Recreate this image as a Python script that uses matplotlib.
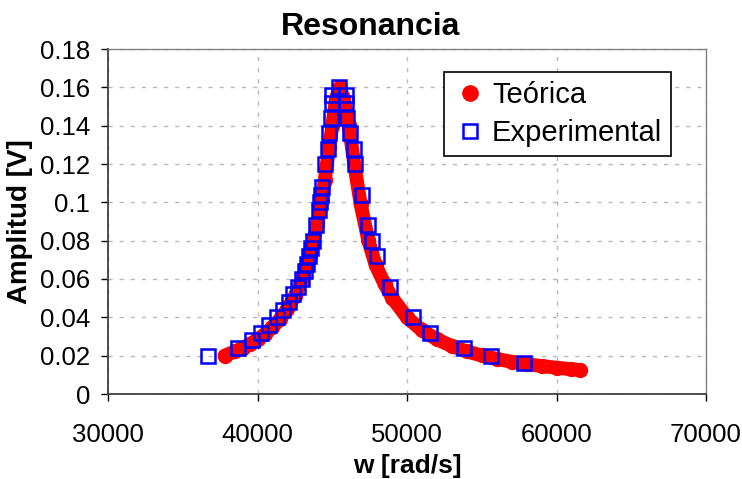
import matplotlib
matplotlib.use("Agg")
import matplotlib.pyplot as plt
from matplotlib.lines import Line2D

plt.rcParams['font.family'] = ['Liberation Sans', 'DejaVu Sans']

# theoretical curve
w_teo = [37800, 38500, 39000, 39500, 40000, 40500, 41000, 41500, 42000, 42500,
         43000, 43500, 44000, 44300, 44500, 44800, 45000, 45250, 45500, 45750,
         46100, 46500, 46900, 47400, 47900, 48500, 49000, 50000, 51000, 52000,
         53000, 54000, 55000, 56000, 57000, 58000, 59000, 60000, 61000, 61600]
a_teo = [0.0200, 0.0222, 0.0240, 0.0261, 0.0285, 0.0313, 0.0349, 0.0390, 0.0445, 0.0512,
         0.0601, 0.0721, 0.0887, 0.1010, 0.1117, 0.1290, 0.1398, 0.1540, 0.1600, 0.1545,
         0.1405, 0.1185, 0.0990, 0.0806, 0.0673, 0.0573, 0.0502, 0.0400, 0.0332, 0.0285,
         0.0250, 0.0222, 0.0201, 0.0183, 0.0168, 0.0156, 0.0146, 0.0137, 0.0129, 0.0125]

# experimental points
w_exp = [36700, 38720, 39600, 40250, 40800, 41300, 41700, 42100, 42400, 42700,
         42950, 43150, 43300, 43450, 43600, 43700, 43900, 44100, 44150, 44250,
         44320, 44540, 44700, 44800, 44900, 44980, 44950, 45440,
         45920, 45950, 46010, 46220, 46450, 46550, 46960, 47380, 47670, 48000,
         48850, 50370, 51550, 53800, 55600, 57850]
a_exp = [0.020, 0.024, 0.028, 0.032, 0.036, 0.040, 0.044, 0.048, 0.052, 0.056,
         0.060, 0.064, 0.068, 0.072, 0.076, 0.080, 0.088, 0.096, 0.100, 0.104,
         0.108, 0.120, 0.128, 0.136, 0.144, 0.152, 0.156, 0.160,
         0.156, 0.152, 0.144, 0.136, 0.128, 0.120, 0.104, 0.088, 0.080, 0.072,
         0.056, 0.040, 0.032, 0.024, 0.020, 0.016]

W, H = 742, 479
fig = plt.figure(figsize=(W / 100, H / 100), dpi=100)
ax = fig.add_axes([108 / W, (H - 394) / H, 598 / W, 345 / H])

ax.plot(w_teo, a_teo, color='red', lw=10, solid_capstyle='round', zorder=3)
ax.plot(w_teo, a_teo, 'o', color='red', ms=10, zorder=3)
ax.plot(w_exp, a_exp, 's', mfc='none', mec='blue', mew=1.8, ms=9.5, zorder=4)

ax.set_xlim(30000, 70000)
ax.set_ylim(0, 0.18)
ax.set_xticks([30000, 40000, 50000, 60000, 70000])
ax.set_yticks([0, 0.02, 0.04, 0.06, 0.08, 0.1, 0.12, 0.14, 0.16, 0.18])
ax.set_yticklabels(['0', '0.02', '0.04', '0.06', '0.08', '0.1', '0.12', '0.14', '0.16', '0.18'])

ax.grid(True, color='#b8b8b8', linestyle=(0, (3, 5)), lw=1)
ax.set_axisbelow(True)
ax.tick_params(direction='out', length=5, width=1, labelsize=18.5, colors='black')
ax.tick_params(axis='x', pad=16)
ax.tick_params(axis='y', pad=8)

for s in ['left', 'bottom']:
    ax.spines[s].set_color('#404040')
    ax.spines[s].set_linewidth(1.3)
for s in ['top', 'right']:
    ax.spines[s].set_color('#808080')
    ax.spines[s].set_linewidth(1.0)

fig.text(0.5, 1 - 35 / H, 'Resonancia', fontsize=23, fontweight='bold',
         ha='center', va='baseline')
ax.set_xlabel('w [rad/s]', fontsize=19, fontweight='bold', labelpad=5)
ax.set_ylabel('Amplitud [V]', fontsize=20, fontweight='bold', labelpad=5)

handles = [Line2D([], [], marker='o', color='red', ls='none', ms=11),
           Line2D([], [], marker='s', mfc='none', mec='blue', mew=1.8, ls='none', ms=9.5)]
leg = ax.legend(handles, ['Teórica', 'Experimental'], loc='upper right',
                bbox_to_anchor=((671 - 108) / 598, (394 - 72) / 345), borderaxespad=0,
                fontsize=21, fancybox=False, framealpha=1, edgecolor='black',
                handletextpad=0.15, handlelength=1.2, borderpad=0.3, labelspacing=0.35)
leg.get_frame().set_linewidth(1.2)

fig.savefig('out.png', dpi=100)
